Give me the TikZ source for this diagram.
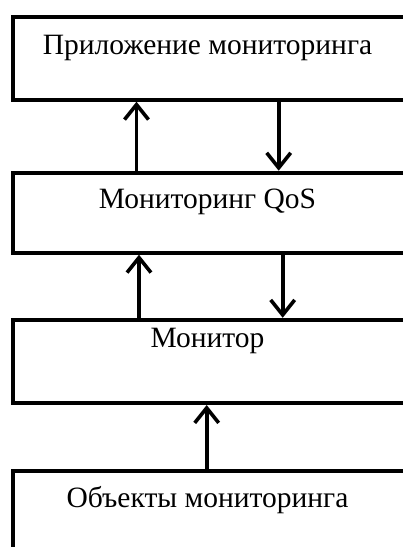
\documentclass[tikz,border=0pt]{standalone}
\usepackage{fontspec}
\setmainfont{Liberation Serif}
\usetikzlibrary{arrows.meta}
\begin{document}
\begin{tikzpicture}[x=1pt,y=1pt,
  box/.style={draw=black,line width=4.2pt,rectangle,inner sep=0pt,minimum width=409pt,anchor=north west},
  lbl/.style={anchor=base,inner sep=0pt,font=\fontsize{29.5}{32}\selectfont},
  arr/.style={line width=3.6pt,-{Straight Barb[length=15pt,width=24pt,line width=3.6pt]}}]
\useasboundingbox (0,0) rectangle (403,-547);
\clip (0,0) rectangle (403,-547);
\fill[white] (0,0) rectangle (403,-547);
\node[box,minimum height=82.5pt] (b1) at (11,-15) {};
\node[box,minimum height=79.8pt] (b2) at (11,-170.7) {};
\node[box,minimum height=83pt] (b3) at (11,-317.8) {};
\node[box,minimum height=120pt] (b4) at (11,-468.7) {};
\node[lbl] (t1) at (207.5,-54.5) {Приложение мониторинга};
\node[lbl] (t2) at (207.5,-208.5) {Мониторинг QoS};
\node[lbl] (t3) at (207.5,-347.5) {Монитор};
\node[lbl] (t4) at (207.5,-507) {Объекты мониторинга};
\coordinate (x1) at (136.5,0);
\coordinate (x2) at (278.7,0);
\coordinate (x3) at (139,0);
\coordinate (x4) at (282.7,0);
\coordinate (x5) at (206.7,0);
\draw[arr] (b2.north -| x1) -- (b1.south -| x1);
\draw[arr] (b1.south -| x2) -- (b2.north -| x2);
\draw[arr] (b3.north -| x3) -- (b2.south -| x3);
\draw[arr] (b2.south -| x4) -- (b3.north -| x4);
\draw[arr] (b4.north -| x5) -- (b3.south -| x5);
\end{tikzpicture}
\end{document}
